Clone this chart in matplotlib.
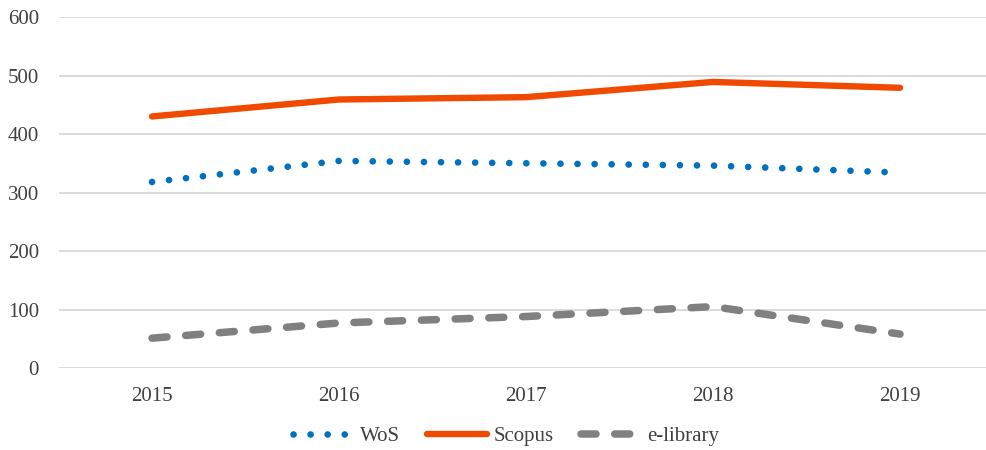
import matplotlib
matplotlib.use("Agg")
import matplotlib.pyplot as plt

years = ["2015", "2016", "2017", "2018", "2019"]
wos = [318, 354, 350, 346, 334]
scopus = [430, 459, 463, 489, 479]
elibrary = [51, 77, 88, 105, 58]
yticks = [0, 100, 200, 300, 400, 500, 600]

plt.rcParams['font.family'] = ['Liberation Serif', 'DejaVu Serif']

fig = plt.figure(figsize=(9.87, 4.5), dpi=100)
ax = fig.add_axes([0.0593, 0.1822, 0.9473, 0.78])

x = list(range(len(years)))
l1, = ax.plot(x, wos, color='#0070C0', lw=4.8, linestyle=(0, (0.01, 2.55)),
              dash_capstyle='round', label='WoS')
l2, = ax.plot(x, scopus, color='#F04A00', lw=4.6, solid_capstyle='round',
              solid_joinstyle='round', label='Scopus')
l3, = ax.plot(x, elibrary, color='#808080', lw=5.4, linestyle=(0, (2.0, 2.5)),
              dash_capstyle='round', label='e-library')

ax.set_xlim(-0.5, len(years) - 0.5)
ax.set_ylim(0, 600)
ax.set_yticks(yticks)
ax.set_xticks(x)
ax.set_xticklabels(years)
ax.grid(axis='y', color='#d9d9d9', lw=1.3)
ax.set_axisbelow(True)
for s in ax.spines.values():
    s.set_visible(False)
ax.tick_params(length=0, labelsize=15, colors='#404040')
ax.tick_params(axis='x', pad=14)
ax.tick_params(axis='y', pad=14)

fig.legend(handles=[l1, l2, l3], loc='center', bbox_to_anchor=(0.513, 0.03),
           ncol=3, frameon=False, fontsize=15, handlelength=2.9,
           columnspacing=1.3, handletextpad=0.3, labelcolor='#404040')

fig.savefig("out.png", dpi=100)
